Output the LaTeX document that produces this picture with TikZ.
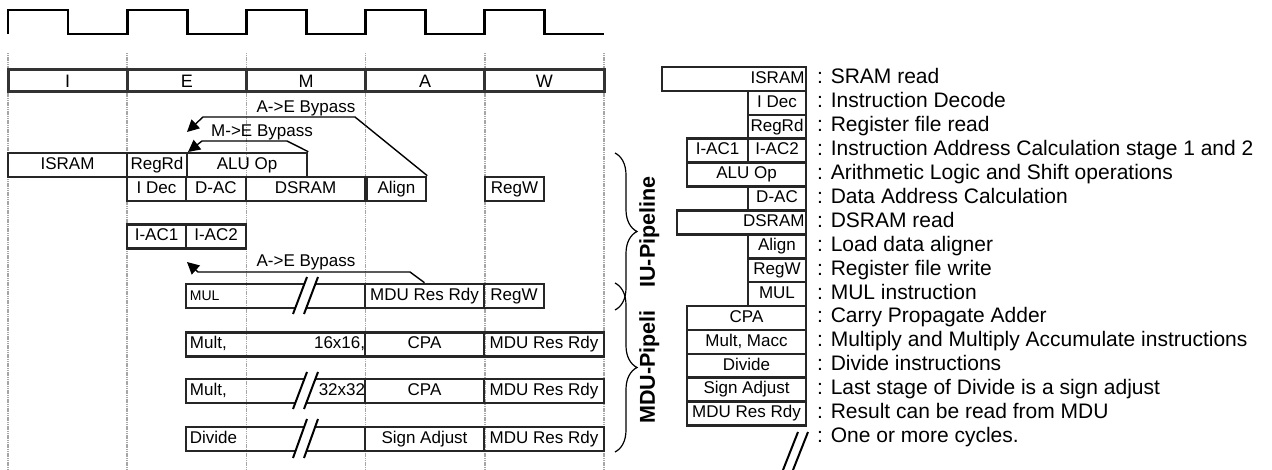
\documentclass[tikz,border=0pt]{standalone}
\usepackage{fontspec}
\setmainfont{Liberation Sans}
\usepackage{tikz}
\usetikzlibrary{arrows.meta,decorations.pathreplacing}

\begin{document}
\begin{tikzpicture}[x=1pt,y=-1pt,>={Triangle[length=12pt,width=12pt]}]
    \tikzstyle{every node}=[inner sep=0pt,text height=12pt,text depth=3.5pt,font=\fontsize{17}{20}\selectfont];
    \tikzstyle{box}=[draw=black!85,line width=2.6pt,minimum height=24pt];
    \tikzstyle{lgd}=[box,minimum height=23.9pt];
    \tikzstyle{hdr}=[draw=black!80,line width=3pt,minimum width=119.2pt,minimum height=22pt,text height=13pt,text depth=0pt,font=\fontsize{18}{20}\selectfont];
    \tikzstyle{clk}=[draw,line width=2.8pt];
    \tikzstyle{grid}=[draw=gray!70,line width=1.6pt,dash pattern=on 1.2pt off 0.6pt];
    \tikzstyle{byp}=[draw,line width=1.4pt,->];
    \tikzstyle{cut}=[draw,line width=2pt];
    \tikzstyle{brc}=[draw,line width=1.2pt,decorate,decoration={brace,amplitude=22pt}];
    \tikzstyle{desc}=[font=\fontsize{21}{24}\selectfont];
    \tikzstyle{pipe}=[rotate=90,text height=15.5pt,text depth=0pt,font=\fontsize{21.5}{24}\selectfont\bfseries];

    \useasboundingbox (0,0) rectangle (1272,470);

    \foreach \i in {0,...,5}
        \draw[grid] ({8+119.2*\i},53) -- ({8+119.2*\i},470);

    \draw[clk] (8,34) \foreach \i in {0,...,4} {-- ({8+119.2*\i},10) -- ({68+119.2*\i},10) -- ({68+119.2*\i},34) -- ({127.2+119.2*\i},34)};

    \foreach \s [count=\i from 0] in {I,E,M,A,W}
        \node[hdr] (st\s) at ({67.6+119.2*\i},81) {\s};

    % IU rows
    \node[box,minimum width=119pt] (isram) at (67.5,165) {ISRAM};
    \node[box,minimum width=60pt] (regrd) at (157,165) {RegRd};
    \node[box,minimum width=120pt] (aluop) at (247,165) {ALU Op};
    \node[box,minimum width=59pt] (idec) at (156.5,189) {I Dec};
    \node[box,minimum width=60pt] (dac) at (216,189) {D-AC};
    \node[box,minimum width=119pt] (dsram) at (305.5,189) {DSRAM};
    \node[box,minimum width=59pt] (align) at (396.5,189) {Align};
    \node[box,minimum width=59pt] (regw) at (514.5,189) {RegW};
    \node[box,minimum width=59pt] (iac1) at (156.5,236.5) {I-AC1};
    \node[box,minimum width=60pt] (iac2) at (216,236.5) {I-AC2};

    % MDU rows
    \node[box,minimum width=179pt] (mul) at (275.5,296) {};
    \node[box,minimum width=119pt] (mulrdy) at (424.5,296) {MDU Res Rdy};
    \node[box,minimum width=60pt] (mulw) at (514,296) {RegW};
    \node[box,minimum width=179pt] (m16) at (275.5,344.5) {};
    \node[box,minimum width=119pt] (cpa16) at (424.5,344.5) {CPA};
    \node[box,minimum width=120pt] (rdy16) at (544,344.5) {MDU Res Rdy};
    \node[box,minimum width=179pt] (m32) at (275.5,391) {};
    \node[box,minimum width=119pt] (cpa32) at (424.5,391) {CPA};
    \node[box,minimum width=120pt] (rdy32) at (544,391) {MDU Res Rdy};
    \node[box,minimum width=179pt] (div) at (275.5,439) {};
    \node[box,minimum width=119pt] (sadj) at (424.5,439) {Sign Adjust};
    \node[box,minimum width=120pt] (rdydiv) at (544,439) {MDU Res Rdy};

    \foreach \t/\b in {284/308,379/403,426/452} {
        \fill[white] (307,\t-7) -- (318,\t-7) -- (304,\b+6) -- (293,\b+6) -- cycle;
        \draw[cut] (307,\t-7) -- (293,\b+6);
        \draw[cut] (318,\t-7) -- (304,\b+6);
    }

    \node[anchor=west,font=\fontsize{14}{16}\selectfont] (mull) at ([xshift=5pt]mul.west) {MUL};
    \node[anchor=west] (m16l) at ([xshift=5pt]m16.west) {Mult,};
    \node[anchor=east] (m16r) at ([xshift=-1pt]m16.east) {16x16,};
    \node[anchor=west] (m32l) at ([xshift=5pt]m32.west) {Mult,};
    \node[anchor=east] (m32r) at ([xshift=-1pt]m32.east) {32x32};
    \node[anchor=west] (divl) at ([xshift=5pt]div.west) {Divide};

    % bypasses
    \draw[byp] (align.north east) -- (355,117) -- (203,117) -- (187,132);
    \node[anchor=base] (ae1) at (306,113) {A->E Bypass};
    \draw[byp] (aluop.north east) -- (287,141) -- (202,141) -- (188,152);
    \node[anchor=base] (me) at (262,137) {M->E Bypass};
    \draw[byp] (mulrdy.north) -- (410,272) -- (198,272) -- (187,262);
    \node[anchor=base] (ae2) at (306,267) {A->E Bypass};

    \draw[brc] (615,153) -- (615,310);
    \draw[brc] (615,283) -- (615,452);
    \node[pipe] (iu) at (647,232) {IU-Pipeline};
    \node[pipe] (mdu) at (647,367) {MDU-Pipeli};

    % legend
    \node[lgd,minimum width=144pt,text width=141pt,inner xsep=1.5pt,align=right] (lisram) at (734,79) {ISRAM};
    \node[lgd,minimum width=58pt] (lidec) at (777,102.9) {I Dec};
    \node[lgd,minimum width=58pt] (lregrd) at (777,126.8) {RegRd};
    \node[lgd,minimum width=61pt] (liac1) at (717.5,150.7) {I-AC1};
    \node[lgd,minimum width=58pt] (liac2) at (777,150.7) {I-AC2};
    \node[lgd,minimum width=119pt] (laluop) at (746.5,174.6) {ALU Op};
    \node[lgd,minimum width=58pt] (ldac) at (777,198.5) {D-AC};
    \node[lgd,minimum width=129pt,text width=126pt,inner xsep=1.5pt,align=right] (ldsram) at (741.5,222.4) {DSRAM};
    \node[lgd,minimum width=58pt] (lalign) at (777,246.3) {Align};
    \node[lgd,minimum width=58pt] (lregw) at (777,270.2) {RegW};
    \node[lgd,minimum width=58pt] (lmul) at (777,294.1) {MUL};
    \node[lgd,minimum width=119pt] (lcpa) at (746.5,318) {CPA};
    \node[lgd,minimum width=119pt] (lmac) at (746.5,341.9) {Mult, Macc};
    \node[lgd,minimum width=119pt] (ldiv) at (746.5,365.8) {Divide};
    \node[lgd,minimum width=119pt] (lsadj) at (746.5,389.7) {Sign Adjust};
    \node[lgd,minimum width=119pt] (lrdy) at (746.5,413.6) {MDU Res Rdy};
    \draw[cut] (798,432) -- (783,470);
    \draw[cut] (808,432) -- (793,470);

    \foreach \t [count=\i from 0] in {SRAM read,Instruction Decode,Register file read,Instruction Address Calculation stage 1 and 2,Arithmetic Logic and Shift operations,Data Address Calculation,DSRAM read,Load data aligner,Register file write,MUL instruction,Carry Propagate Adder,Multiply and Multiply Accumulate instructions,Divide instructions,Last stage of Divide is a sign adjust,Result can be read from MDU,One or more cycles.}
        \node[desc,anchor=base west] (d\i) at (817,{84+23.9*\i}) {: \t};

\end{tikzpicture}
\end{document}
